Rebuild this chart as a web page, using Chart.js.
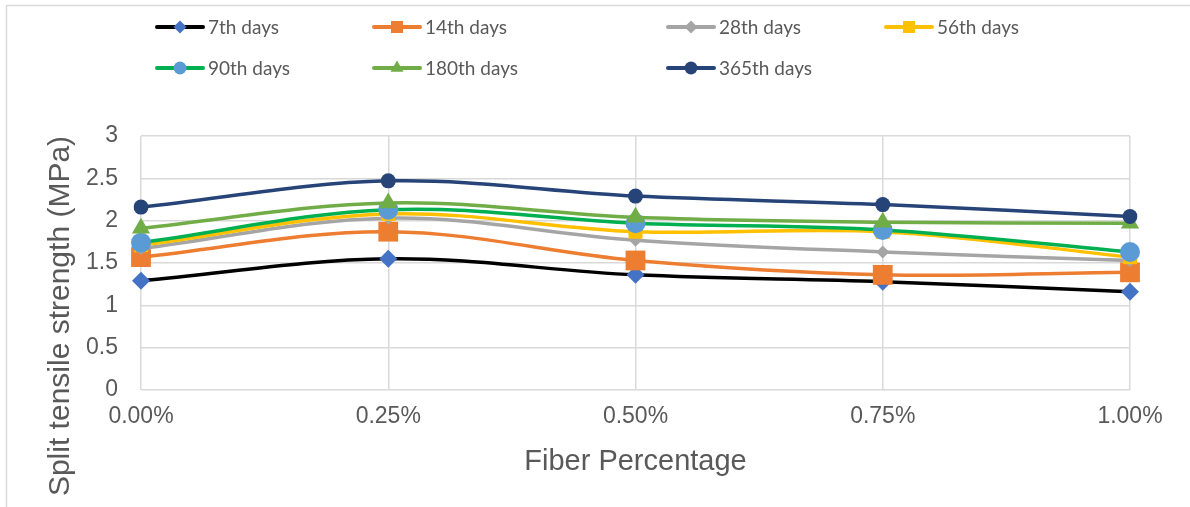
<!DOCTYPE html>
<html>
<head>
<meta charset="utf-8">
<script src="https://cdn.jsdelivr.net/npm/chart.js@4.4.1/dist/chart.umd.min.js"></script>
<style>
  html, body { margin: 0; padding: 0; background: #ffffff; }
  #wrap { position: relative; width: 1190px; height: 507px; }
</style>
</head>
<body>
<div id="wrap"><canvas id="c" width="1190" height="507"></canvas></div>
<script>
// Fiber dosage categories (x axis)
const categories = ['0.00%', '0.25%', '0.50%', '0.75%', '1.00%'];

// Split tensile strength (MPa) per curing age
const day7   = [1.29, 1.55, 1.36, 1.28, 1.16];
const day14  = [1.57, 1.87, 1.53, 1.36, 1.39];
const day28  = [1.67, 2.03, 1.77, 1.63, 1.53];
const day56  = [1.71, 2.08, 1.87, 1.87, 1.57];
const day90  = [1.74, 2.13, 1.97, 1.89, 1.63];
const day180 = [1.91, 2.21, 2.04, 1.98, 1.97];
const day365 = [2.16, 2.47, 2.29, 2.19, 2.05];

// Series names
const seriesNames = ['7th days', '14th days', '28th days', '56th days', '90th days', '180th days', '365th days'];

// Value axis tick labels
const yTickLabels = ['0', '0.5', '1', '1.5', '2', '2.5', '3'];

const xTitle = 'Fiber Percentage';
const yTitle = 'Split tensile strength (MPa)';

const styles = [
  { line: '#000000', fill: '#4472C4', shape: 'rectRot',  r: 9,    lr: 6.5 },
  { line: '#ED7D31', fill: '#ED7D31', shape: 'rect',     r: 14,   lr: 8.5 },
  { line: '#A5A5A5', fill: '#A5A5A5', shape: 'rectRot',  r: 6.5,  lr: 6.5 },
  { line: '#FFC000', fill: '#FFC000', shape: 'rect',     r: 10,   lr: 8.5 },
  { line: '#00B050', fill: '#5B9BD5', shape: 'circle',   r: 10,   lr: 6.5 },
  { line: '#70AD47', fill: '#70AD47', shape: 'triangle', r: 10.5, lr: 7.5 },
  { line: '#264478', fill: '#264478', shape: 'circle',   r: 7.5,  lr: 6.5 }
];

const seriesData = [day7, day14, day28, day56, day90, day180, day365];

const datasets = seriesData.map((vals, i) => ({
  label: seriesNames[i],
  data: vals,
  borderColor: styles[i].line,
  backgroundColor: styles[i].fill,
  borderWidth: 3.5,
  tension: 0.35,
  pointStyle: styles[i].shape,
  pointRadius: styles[i].r,
  pointHoverRadius: styles[i].r,
  pointBackgroundColor: styles[i].fill,
  pointBorderColor: styles[i].fill,
  pointBorderWidth: 0,
  order: seriesData.length - 1 - i   // later series painted on top
}));

// Legend grid: two rows, four columns
const legendCols = [157, 374, 668, 886];
const legendRows = [27, 68];

const frameAndLegend = {
  id: 'frameAndLegend',
  beforeDraw(chart) {
    const ctx = chart.ctx;
    ctx.save();
    ctx.fillStyle = '#ffffff';
    ctx.fillRect(0, 0, chart.width, chart.height);
    ctx.strokeStyle = '#D9D9D9';
    ctx.lineWidth = 1.5;
    ctx.beginPath();
    ctx.moveTo(6.5, chart.height);
    ctx.lineTo(6.5, 5.5);
    ctx.lineTo(chart.width, 5.5);
    ctx.stroke();
    ctx.restore();
  },
  afterDraw(chart) {
    const ctx = chart.ctx;
    ctx.save();
    // value axis title
    ctx.fillStyle = '#595959';
    ctx.font = '30px "Liberation Sans", Arial, sans-serif';
    ctx.textAlign = 'center';
    ctx.textBaseline = 'middle';
    ctx.translate(61, 316);
    ctx.rotate(-Math.PI / 2);
    ctx.fillText(yTitle, 0, 0);
    ctx.restore();

    // legend
    ctx.save();
    seriesNames.forEach((name, i) => {
      const x = legendCols[i % 4];
      const y = legendRows[Math.floor(i / 4)];
      const st = styles[i];
      ctx.strokeStyle = st.line;
      ctx.lineWidth = 4;
      ctx.lineCap = 'round';
      ctx.beginPath();
      ctx.moveTo(x, y);
      ctx.lineTo(x + 46, y);
      ctx.stroke();
      ctx.fillStyle = st.fill;
      ctx.strokeStyle = st.fill;
      Chart.helpers.drawPoint(ctx, { pointStyle: st.shape, radius: st.lr, borderWidth: 0, rotation: 0 }, x + 23, y);
      ctx.fillStyle = '#595959';
      ctx.font = '19px Lato, "Open Sans", sans-serif';
      ctx.textAlign = 'left';
      ctx.textBaseline = 'middle';
      ctx.fillText(name, x + 51, y + 1);
    });
    ctx.restore();
  }
};

new Chart(document.getElementById('c'), {
  type: 'line',
  data: { labels: categories, datasets },
  plugins: [frameAndLegend],
  options: {
    responsive: false,
    animation: false,
    devicePixelRatio: 1,
    layout: { padding: { top: 136, right: 60, bottom: 0, left: 0 } },
    plugins: { legend: { display: false }, tooltip: { enabled: false } },
    scales: {
      x: {
        offset: false,
        grid: { color: '#D9D9D9', lineWidth: 1.5, drawTicks: false },
        border: { display: false },
        ticks: { color: '#595959', font: { family: '"Liberation Sans", Arial, sans-serif', size: 23 }, padding: 13, maxRotation: 0 },
        title: { display: true, text: xTitle, color: '#595959', font: { family: '"Liberation Sans", Arial, sans-serif', size: 29 }, padding: { top: 0, bottom: 28 } },
        afterFit(scale) { scale.height = 117; }
      },
      y: {
        min: 0, max: 3,
        grid: { color: '#D9D9D9', lineWidth: 1.5, drawTicks: false },
        border: { display: false },
        ticks: {
          stepSize: 0.5,
          color: '#595959',
          font: { family: '"Liberation Sans", Arial, sans-serif', size: 23 },
          padding: 23,
          callback: (v, idx) => yTickLabels[idx]
        },
        afterFit(scale) { scale.width = 141; }
      }
    }
  }
});
</script>
</body>
</html>
